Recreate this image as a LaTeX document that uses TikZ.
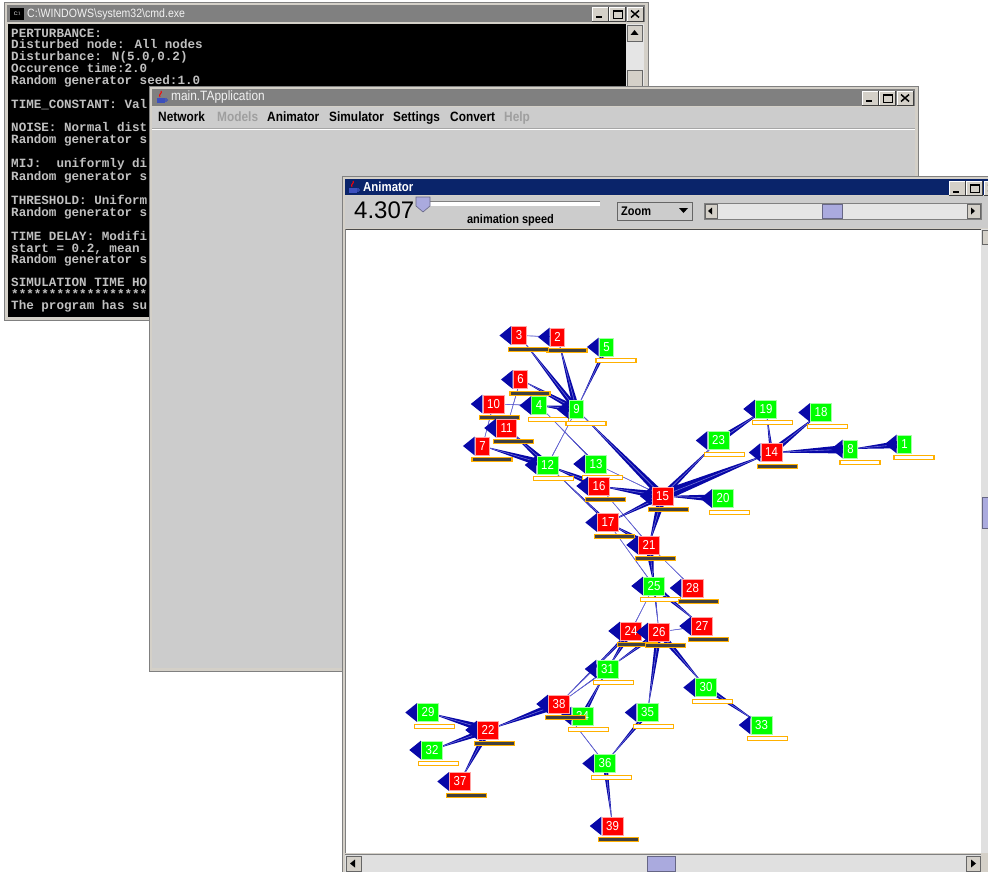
\documentclass[tikz,border=0pt]{standalone}
\usepackage{fontspec}
\setmainfont{Liberation Sans}
\newfontfamily\uifont[FakeStretch=0.88]{Liberation Sans}
\newfontfamily\confont{Liberation Mono}
\usetikzlibrary{calc}

\definecolor{netred}{RGB}{255,0,0}
\definecolor{netgreen}{RGB}{0,255,0}
\definecolor{tipblue}{RGB}{8,8,168}
\definecolor{hairblue}{RGB}{110,110,215}
\definecolor{barorange}{RGB}{255,176,0}
\definecolor{bardark}{RGB}{64,64,64}
\definecolor{winface}{RGB}{212,208,200}
\definecolor{panel}{RGB}{204,204,204}
\definecolor{dimtitle}{RGB}{128,128,128}
\definecolor{navy}{RGB}{10,36,106}
\definecolor{thumb}{RGB}{170,170,222}
\definecolor{consolegrey}{RGB}{192,192,192}
\definecolor{javablue}{RGB}{60,80,190}

\pgfdeclarelayer{desk}
\pgfdeclarelayer{links}
\pgfsetlayers{desk,links,main}

% square with its pennant and its level bar
\newcommand\agent[4]{%
  \node[#1box] (#2) at (#3) {#4};
  \fill[pennant] ($(#2.north west)+(-0.4,0)$) -- ($(#2.south west)+(-0.4,0)$)
    -- ($(#2.west)+(-12,0)$) -- cycle;
  \draw[#1bar] ($(#2.south west)+(-3,2.5)$) rectangle ++(40,4);}

% tapered link: thin at the first node, wide at the second
\newcommand\link[3]{%
  \fill[tipblue] let \p1=(#1.center), \p2=(#2.center),
    \n1={atan2(\y2-\y1,\x2-\x1)} in
    (\p1) -- ($(\p2)+(\n1+90:#3*0.35pt)$) -- ($(\p2)+(\n1-90:#3*0.35pt)$) -- cycle;
  \draw[hair] (#1.center) -- (#2.center);}

% minimise / maximise / close
\newcommand\capbuttons[2]{%
  \foreach \dx in {0,17,35}{
    \fill[winface] (#1+\dx,#2) rectangle ++(16,14);
    \draw[white] (#1+\dx,#2+14) |- (#1+\dx+16,#2);
    \draw[black!75] (#1+\dx,#2+14) -| (#1+\dx+16,#2);
  }
  \draw[line width=2] (#1+4,#2+10.5) -- (#1+10,#2+10.5);
  \draw[line width=0.8] (#1+21,#2+3.5) rectangle (#1+30,#2+11);
  \draw[line width=1.6] (#1+21,#2+4) -- (#1+30,#2+4);
  \draw[line width=1.5] (#1+39,#2+3.5) -- (#1+47,#2+10.5)
    (#1+39,#2+10.5) -- (#1+47,#2+3.5);}

\newcommand\javaicon[2]{%
  \fill[javablue] (#1+2,#2+8) rectangle (#1+10,#2+13);
  \draw[javablue, line width=0.8] (#1+11,#2+10) circle (1.5);
  \draw[netred, line width=1] (#1+5,#2+7) .. controls (#1+3,#2+4) and (#1+8,#2+3) .. (#1+6,#2+1);}

\begin{document}
\begin{tikzpicture}
[x=1pt, y=-1pt,
 box/.style={minimum height=18, inner xsep=4, inner ysep=0, text=white,
   font=\uifont\fontsize{13}{13}\selectfont, line width=0.7},
 redbox/.style={box, fill=netred, draw=netred!35!white},
 greenbox/.style={box, fill=netgreen, draw=netgreen!35!white},
 redbar/.style={fill=bardark, draw=barorange, line width=1.2},
 greenbar/.style={fill=white, draw=barorange, line width=1.2},
 pennant/.style={fill=tipblue},
 hair/.style={draw=hairblue, line width=0.6},
 wintitle/.style={inner sep=0, anchor=west, text=white!90!gray,
   font=\uifont\fontsize{11.5}{11.5}\selectfont},
 menu/.style={inner sep=0, anchor=base west,
   font=\uifont\bfseries\fontsize{13.5}{13.5}\selectfont},
 greyed/.style={menu, text=gray!75},
 console/.style={inner sep=0, anchor=north west, align=left, text=consolegrey,
   font=\confont\bfseries\fontsize{12.6}{11.5}\selectfont},
 knob/.style={fill=thumb, draw=thumb!60!black, line width=0.6},
 button/.style={fill=winface, draw=gray!80!black, line width=0.5}]
\useasboundingbox (0,0) rectangle (988,872);

\begin{pgfonlayer}{desk}
\fill[white] (0,0) rectangle (988,872);

% console window
\filldraw[fill=winface, draw=gray] (4,2) rectangle (648,320);
\fill[dimtitle] (7,5) rectangle (645,22);
\fill[black] (10,8) rectangle (24,20);
\node[inner sep=0, text=white, font=\fontsize{5}{5}\selectfont] (cmdicon) at (17,14) {C:\textbackslash};
\node[wintitle, font=\uifont\fontsize{12}{12}\selectfont] (cmdtitle) at (27,14)
  {C:\textbackslash WINDOWS\textbackslash system32\textbackslash cmd.exe};
\capbuttons{592}{7}
\fill[black] (8,24) rectangle (626,317);
\fill[black!10] (626,24) rectangle (644,317);
\filldraw[button] (627,25) rectangle (642,41);
\fill (634.5,30) -- (630.5,35) -- (638.5,35) -- cycle;
\filldraw[button] (627,70) rectangle (642,88);
\node[console] (contxt) at (11,28.5) {PERTURBANCE:\\
  Disturbed node: All nodes\\
  Disturbance: N(5.0,0.2)\\
  Occurence time:2.0\\
  Random generator seed:1.0\\[11.5pt]
  TIME\_CONSTANT: Val\\[11.5pt]
  NOISE: Normal dist\\
  Random generator s\\[11.5pt]
  MIJ:~~uniformly di\\
  Random generator s\\[11.5pt]
  THRESHOLD: Uniform\\
  Random generator s\\[11.5pt]
  TIME DELAY: Modifi\\
  start = 0.2, mean\\
  Random generator s\\[11.5pt]
  SIMULATION TIME HO\\
  ******************\\
  The program has su};

% application window
\filldraw[fill=winface, draw=gray] (149,86) rectangle (918,671);
\fill[dimtitle] (152,89) rectangle (915,106);
\javaicon{155}{90}
\node[wintitle, font=\uifont\fontsize{13.5}{13.5}\selectfont] (apptitle) at (171,97.5) {main.TApplication};
\capbuttons{862}{91}
\fill[panel] (152,107) rectangle (915,668);
\node[menu] (mnetwork) at (158,122) {Network};
\node[greyed] (mmodels) at (217,122) {Models};
\node[menu] (manimator) at (267,122) {Animator};
\node[menu] (msimulator) at (329,122) {Simulator};
\node[menu] (msettings) at (393,122) {Settings};
\node[menu] (mconvert) at (450,122) {Convert};
\node[greyed] (mhelp) at (504,122) {Help};
\draw[gray!70] (152,128.5) -- (915,128.5);
\draw[white] (152,129.5) -- (915,129.5);

% animator window
\filldraw[fill=winface, draw=gray] (342,176) rectangle (995,878);
\fill[navy] (345,179) rectangle (995,195);
\javaicon{347}{180}
\node[wintitle, text=white, font=\uifont\bfseries\fontsize{13}{13}\selectfont] (animtitle) at (363,187) {Animator};
\capbuttons{949}{181}
\fill[panel] (345,196) rectangle (995,228);
\node[inner sep=0, anchor=west, font=\fontsize{24}{24}\selectfont] (speedval) at (354,210.5) {4.307};
\fill[white] (421,201) rectangle (600,206);
\draw[gray] (421,206) |- (600,201);
\filldraw[knob] (416,197) -- (430,197) -- (430,206) -- (423,212) -- (416,206) -- cycle;
\node[inner sep=0, font=\uifont\bfseries\fontsize{12.5}{12.5}\selectfont] (speedlbl) at (510.5,220) {animation speed};
\filldraw[fill=panel, draw=gray!80!black] (617,202) rectangle (692,220);
\node[inner sep=0, anchor=west, font=\uifont\bfseries\fontsize{12.5}{12.5}\selectfont] (zoomlbl) at (621,211) {Zoom};
\fill (679,208) -- (688,208) -- (683.5,213) -- cycle;
\filldraw[fill=black!10, draw=gray] (704,203) rectangle (981,219);
\filldraw[button] (705,204) rectangle (717,218);
\fill (708,211) -- (712,207.5) -- (712,214.5) -- cycle;
\filldraw[button] (967,204) rectangle (980,218);
\fill (975,211) -- (971,207.5) -- (971,214.5) -- cycle;
\filldraw[knob] (822,204) rectangle (842,218);
% drawing area and its scroll bars
\fill[white] (345,229) rectangle (981,853);
\draw[black!70] (345,229) -- (981,229);
\draw[gray] (345,229) -- (345,853);
\fill[black!12] (981,229) rectangle (995,853);
\filldraw[button] (982,230) rectangle (995,244);
\filldraw[knob] (982,497) rectangle (995,528);
\fill[black!12] (345,854) rectangle (981,875);
\draw[gray] (345,854) -- (981,854);
\filldraw[button] (346,856) rectangle (361,871);
\fill (350,863.5) -- (355,859.5) -- (355,867.5) -- cycle;
\filldraw[button] (966,856) rectangle (980,871);
\fill (976,863.5) -- (971,859.5) -- (971,867.5) -- cycle;
\filldraw[knob] (647,856) rectangle (675,871);
\fill[winface] (981,854) rectangle (995,875);
\end{pgfonlayer}

% network
\agent{green}{n1}{904.5,444}{1}
\agent{red}{n2}{557.5,337}{2}
\agent{red}{n3}{519,335.5}{3}
\agent{green}{n4}{539,405.5}{4}
\agent{green}{n5}{606.5,347}{5}
\agent{red}{n6}{520.5,379.5}{6}
\agent{red}{n7}{482.5,446}{7}
\agent{green}{n8}{850.5,449}{8}
\agent{green}{n9}{576.5,409.5}{9}
\agent{red}{n10}{493.5,404}{10}
\agent{red}{n11}{506.5,428}{11}
\agent{green}{n12}{547.5,465}{12}
\agent{green}{n13}{596,464}{13}
\agent{red}{n14}{771.5,452.5}{14}
\agent{red}{n15}{662.5,496}{15}
\agent{red}{n16}{599,486}{16}
\agent{red}{n17}{608,522.5}{17}
\agent{green}{n18}{821,412.5}{18}
\agent{green}{n19}{766,409}{19}
\agent{green}{n20}{723,498.5}{20}
\agent{red}{n21}{649,545}{21}
\agent{red}{n22}{488,730}{22}
\agent{green}{n23}{718.5,440.5}{23}
\agent{red}{n24}{631,631}{24}
\agent{green}{n25}{654,586}{25}
\agent{red}{n26}{659,632}{26}
\agent{red}{n27}{702,626}{27}
\agent{red}{n28}{692.5,588}{28}
\agent{green}{n29}{428,712.5}{29}
\agent{green}{n30}{706,687.5}{30}
\agent{green}{n31}{607.5,669}{31}
\agent{green}{n32}{432,750}{32}
\agent{green}{n33}{761.5,725}{33}
\agent{green}{n34}{582.5,716}{34}
\agent{green}{n35}{647.5,712.5}{35}
\agent{green}{n36}{605,763.5}{36}
\agent{red}{n37}{460,781.5}{37}
\agent{red}{n38}{559,704}{38}
\agent{red}{n39}{612.5,826}{39}

\begin{pgfonlayer}{links}
\link{n3}{n2}{1}
\link{n3}{n9}{9}
\link{n2}{n9}{9}
\link{n9}{n5}{6}
\link{n6}{n9}{9}
\link{n10}{n4}{1}
\link{n4}{n9}{11}
\link{n11}{n6}{1}
\link{n7}{n10}{1}
\link{n7}{n12}{12}
\link{n11}{n12}{10}
\link{n9}{n12}{1}
\link{n4}{n13}{2}
\link{n9}{n15}{11}
\link{n12}{n16}{11}
\link{n12}{n17}{4}
\link{n16}{n15}{12}
\link{n13}{n15}{1}
\link{n16}{n21}{1}
\link{n17}{n15}{9}
\link{n17}{n21}{9}
\link{n17}{n25}{1}
\link{n21}{n15}{13}
\link{n25}{n21}{12}
\link{n21}{n28}{1}
\link{n25}{n24}{1}
\link{n26}{n25}{3}
\link{n27}{n25}{8}
\link{n26}{n27}{1}
\link{n14}{n15}{16}
\link{n23}{n15}{9}
\link{n19}{n23}{10}
\link{n18}{n14}{10}
\link{n19}{n14}{5}
\link{n14}{n8}{13}
\link{n8}{n1}{12}
\link{n15}{n20}{12}
\link{n29}{n22}{12}
\link{n32}{n22}{10}
\link{n37}{n22}{10}
\link{n22}{n38}{12}
\link{n38}{n31}{2}
\link{n31}{n34}{7}
\link{n38}{n36}{1}
\link{n36}{n35}{7}
\link{n39}{n36}{7}
\link{n35}{n26}{9}
\link{n30}{n26}{10}
\link{n33}{n30}{8}
\link{n31}{n24}{9}
\link{n31}{n26}{7}
\link{n38}{n24}{5}
\end{pgfonlayer}
\end{tikzpicture}
\end{document}
